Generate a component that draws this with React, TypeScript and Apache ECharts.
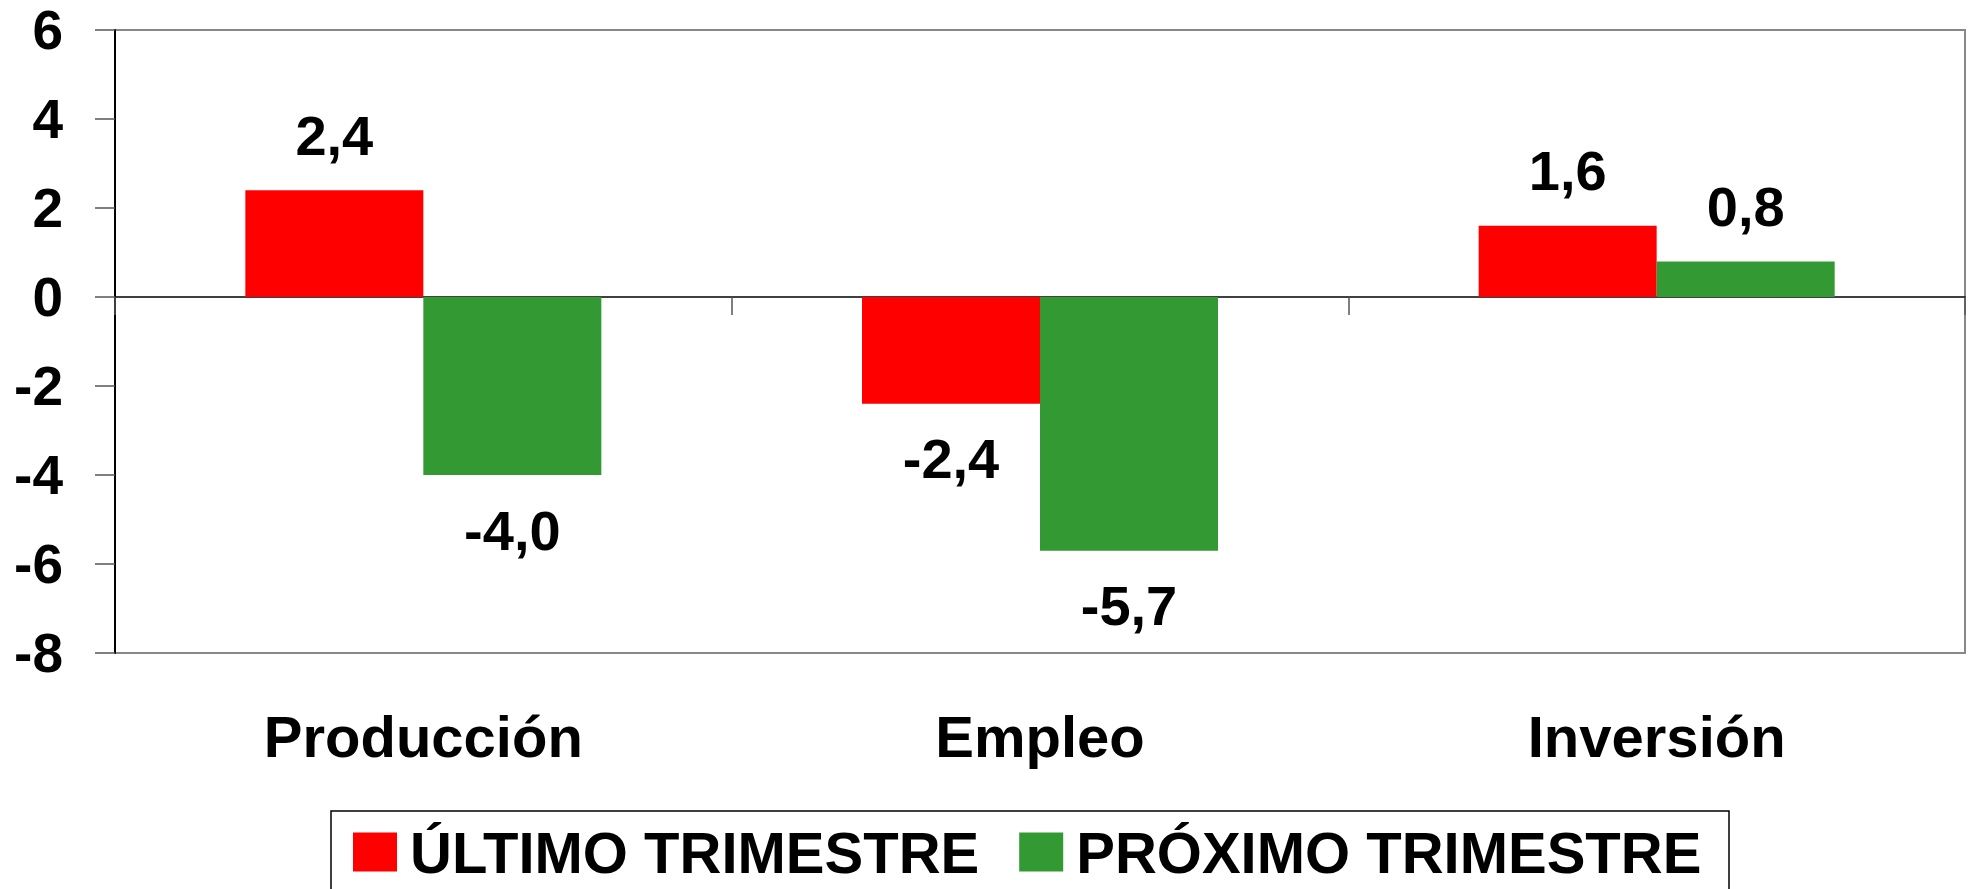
import React, { useEffect, useRef } from "react";
import * as echarts from "echarts";

const categories = ["Producción", "Empleo", "Inversión"];
const ultimoTrimestre = [2.4, -2.4, 1.6];
const proximoTrimestre = [-4.0, -5.7, 0.8];
const seriesNames = ["ÚLTIMO TRIMESTRE", "PRÓXIMO TRIMESTRE"];
const yMin = -8;
const yMax = 6;
const yInterval = 2;

const FONT = "'Liberation Sans', Arial, sans-serif";

function fmt(v: number) {
  return v.toFixed(1).replace(".", ",");
}

function toItems(vals: number[]) {
  return vals.map((v) => ({
    value: v,
    label: { position: v < 0 ? "bottom" : "top" },
  }));
}

export default function App() {
  const ref = useRef<HTMLDivElement>(null);
  useEffect(() => {
    if (!ref.current) return;
    const chart = echarts.init(ref.current, null, { renderer: "svg" });
    const labelStyle = {
      show: true,
      distance: 27,
      fontFamily: FONT,
      fontWeight: "bold",
      fontSize: 56,
      color: "#000",
      formatter: (p: any) => fmt(p.value),
    };
    chart.setOption({
      animation: false,
      backgroundColor: "#fff",
      grid: {
        left: 115,
        right: 10,
        top: 30,
        bottom: 236,
        show: true,
        borderColor: "#888",
        borderWidth: 2,
        containLabel: false,
      },
      legend: {
        data: seriesNames,
        left: 348,
        top: 818,
        icon: "rect",
        itemWidth: 44,
        itemHeight: 39,
        itemGap: 40,
        textStyle: {
          fontFamily: FONT,
          fontWeight: "bold",
          fontSize: 58,
          color: "#000",
          padding: [0, 0, 0, 8],
        },
      },
      graphic: [
        {
          type: "rect",
          shape: { x: 331, y: 811, width: 1398, height: 120 },
          style: { fill: "none", stroke: "#000", lineWidth: 1.5 },
          z: 0,
        },
      ],
      xAxis: [
        {
          type: "category",
          data: categories,
          axisLine: { onZero: true, lineStyle: { color: "#000", width: 1.5 } },
          axisTick: { show: true, length: 18, lineStyle: { color: "#555", width: 1.5 } },
          axisLabel: { show: false },
        },
        {
          type: "category",
          data: categories,
          position: "bottom",
          axisLine: { show: false },
          axisTick: { show: false },
          axisLabel: {
            show: true,
            margin: 54,
            fontFamily: FONT,
            fontWeight: "bold",
            fontSize: 58,
            color: "#000",
          },
        },
      ],
      yAxis: {
        type: "value",
        min: yMin,
        max: yMax,
        interval: yInterval,
        splitLine: { show: false },
        axisLine: { show: true, lineStyle: { color: "#000", width: 2 } },
        axisTick: { show: true, length: 20, lineStyle: { color: "#555", width: 1.5 } },
        axisLabel: {
          margin: 52,
          fontFamily: FONT,
          fontWeight: "bold",
          fontSize: 55,
          color: "#000",
        },
      },
      series: [
        {
          name: seriesNames[0],
          type: "bar",
          xAxisIndex: 0,
          data: toItems(ultimoTrimestre),
          itemStyle: { color: "#FF0000" },
          barWidth: 178,
          barGap: "0%",
          label: labelStyle,
        },
        {
          name: seriesNames[1],
          type: "bar",
          xAxisIndex: 0,
          data: toItems(proximoTrimestre),
          itemStyle: { color: "#339933" },
          barWidth: 178,
          barGap: "0%",
          label: labelStyle,
        },
      ],
    });
    return () => chart.dispose();
  }, []);
  return (
    <div
      ref={ref}
      style={{ position: "fixed", left: 0, top: 0, width: 1975, height: 889 }}
    />
  );
}
